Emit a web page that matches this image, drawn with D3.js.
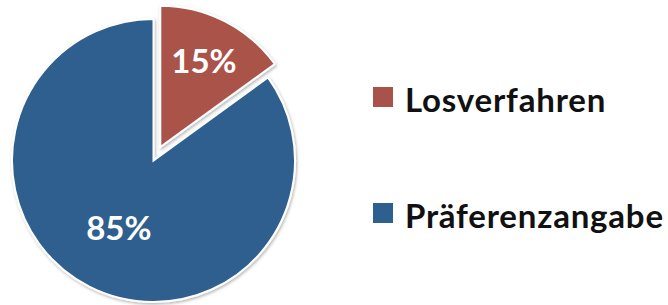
<!DOCTYPE html>
<html>
<head>
<meta charset="utf-8">
<script src="https://cdn.jsdelivr.net/npm/d3@7"></script>
<style>
  body { margin: 0; background: #fff; }
  svg { display: block; }
</style>
</head>
<body>
<svg id="chart" width="668" height="305"></svg>
<script>
var categories = ["Losverfahren", "Präferenzangabe"];
var values = [15, 85];
var labels = ["15%", "85%"];
var colors = ["#A9524A", "#2D5F8F"];

var w = 668, h = 305;
var cx = 153.5, cy = 160.5, r = 141.5;
var explode = 15;

var svg = d3.select("#chart");

var defs = svg.append("defs");
var f = defs.append("filter").attr("id", "shadow")
    .attr("x", "-10%").attr("y", "-10%").attr("width", "120%").attr("height", "120%");
f.append("feDropShadow").attr("dx", 1).attr("dy", 1.5).attr("stdDeviation", 1.5)
    .attr("flood-color", "#000").attr("flood-opacity", 0.3);

var pie = d3.pie().sort(null).value(function(d){ return d; });
var arcs = pie(values);
var arc = d3.arc().innerRadius(0).outerRadius(r);

var g = svg.append("g").attr("transform", "translate(" + cx + "," + cy + ")");

var slice = g.selectAll("g.slice")
    .data(arcs)
    .enter().append("g")
    .attr("class", "slice")
    .attr("transform", function(d, i){
        if (i != 0) return null;
        var a = (d.startAngle + d.endAngle) / 2;
        return "translate(" + (Math.sin(a) * explode) + "," + (-Math.cos(a) * explode) + ")";
    });

slice.append("path")
    .attr("d", arc)
    .attr("fill", function(d, i){ return colors[i]; })
    .attr("stroke", "#fff")
    .attr("stroke-width", 2)
    .attr("filter", "url(#shadow)");

var labelPos = [0.68, 0.54];
slice.append("text")
    .attr("transform", function(d, i){
        var a = (d.startAngle + d.endAngle) / 2;
        var rr = r * labelPos[i];
        return "translate(" + (Math.sin(a) * rr) + "," + (-Math.cos(a) * rr) + ")";
    })
    .attr("text-anchor", "middle")
    .attr("dy", "0.36em")
    .attr("font-family", "Lato, 'Open Sans', sans-serif")
    .attr("font-weight", "bold")
    .attr("font-size", "33px")
    .attr("fill", "#fff")
    .text(function(d, i){ return labels[i]; });

// legend
var ly = d3.scalePoint().domain(categories).range([97, 213]);
var legend = svg.selectAll("g.legend")
    .data(categories)
    .enter().append("g")
    .attr("class", "legend")
    .attr("transform", function(d){ return "translate(373," + ly(d) + ")"; });

legend.append("rect")
    .attr("x", 0).attr("y", -10)
    .attr("width", 20).attr("height", 20)
    .attr("fill", function(d, i){ return colors[i]; });

legend.append("text")
    .attr("x", 32)
    .attr("y", 15)
    .attr("font-family", "Lato, 'Open Sans', sans-serif")
    .attr("font-weight", "bold")
    .attr("font-size", "33px")
    .attr("letter-spacing", "0.8px")
    .attr("fill", "#111")
    .text(function(d){ return d; });
</script>
</body>
</html>
